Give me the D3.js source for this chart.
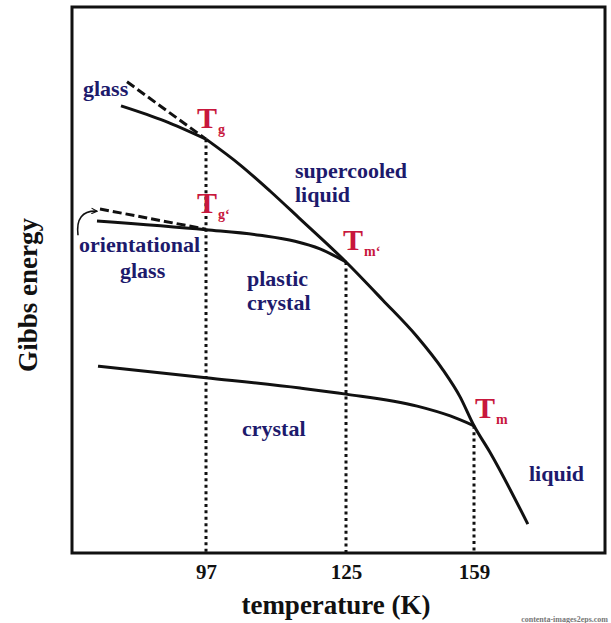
<!DOCTYPE html>
<html>
<head>
<meta charset="utf-8">
<script src="https://cdn.jsdelivr.net/npm/d3@7"></script>
<style>
  html, body { margin: 0; padding: 0; background: #fff; }
  svg text { font-family: "Liberation Serif", "Times New Roman", serif; font-weight: bold; }
</style>
</head>
<body>
<div id="chart"></div>
<script>
// temperature (K) vs Gibbs energy (arbitrary units, 0-100)
var tickTemps = [97, 125, 159];

var glassT = [80, 88.8, 97];
var glassG = [81.9, 79.1, 75.8];

var glassExtT = [81.2, 97];          // dashed extrapolation of liquid
var glassExtG = [86.3, 75.8];

var liquidT = [97, 103.8, 109.8, 115.8, 125, 134.8, 143.9, 150.8, 155.3, 159, 163.2, 173.3];
var liquidG = [75.8, 71.1, 66.3, 61.2, 53.3, 46.3, 39.6, 33.5, 28.6, 23.3, 18.5, 5.3];

var plasticT = [75.2, 97, 107.8, 114.8, 119.8, 125];
var plasticG = [60.8, 59.2, 58.2, 57.1, 55.7, 53.3];

var orientExtT = [75.8, 97];         // dashed extrapolation of plastic crystal
var orientExtG = [63.0, 59.3];

var crystalT = [75.4, 97, 115.8, 125, 143.9, 152.7, 159];
var crystalG = [34.2, 32.1, 30.2, 29.1, 26.9, 25.1, 23.3];

var transitionG = [75.8, 53.3, 23.3]; // G where the dotted lines start
var transitionNames = ["g", "m\u2018", "m"];

function zip(ts, gs) { return ts.map(function (t, i) { return { t: t, g: gs[i] }; }); }

var width = 611, height = 623;
var frame = { left: 72, top: 7, right: 605, bottom: 553 };
var red = "#c8173d", navy = "#1d1a6c";

var svg = d3.select("#chart").append("svg")
    .attr("width", width)
    .attr("height", height);

// schematic axis: the three marked temperatures are not evenly spaced
var x = d3.scaleLinear()
    .domain(tickTemps)
    .range([206, 346, 474]);

var y = d3.scaleLinear()
    .domain([0, 100])
    .range([frame.bottom, frame.top]);

var line = d3.line()
    .x(function (d) { return x(d.t); })
    .y(function (d) { return y(d.g); })
    .curve(d3.curveMonotoneX);

// dotted verticals at the transitions
svg.selectAll(".drop")
    .data(tickTemps)
    .enter().append("line")
    .attr("class", "drop")
    .attr("x1", function (d) { return x(d); })
    .attr("x2", function (d) { return x(d); })
    .attr("y1", function (d, i) { return y(transitionG[i]); })
    .attr("y2", y(0))
    .attr("stroke", "#111")
    .attr("stroke-width", 3)
    .attr("stroke-dasharray", "3,3.4");

// solid curves
[zip(glassT, glassG), zip(liquidT, liquidG), zip(plasticT, plasticG), zip(crystalT, crystalG)]
    .forEach(function (pts) {
        svg.append("path")
            .datum(pts)
            .attr("d", line)
            .attr("fill", "none")
            .attr("stroke", "#111")
            .attr("stroke-width", 3);
    });

// dashed extrapolations
[zip(glassExtT, glassExtG), zip(orientExtT, orientExtG)].forEach(function (pts) {
    svg.append("path")
        .datum(pts)
        .attr("d", line)
        .attr("fill", "none")
        .attr("stroke", "#111")
        .attr("stroke-width", 3)
        .attr("stroke-dasharray", "9,4");
});

// small curved arrow from "orientational" to the dashed line
svg.append("defs").append("marker")
    .attr("id", "head")
    .attr("viewBox", "0 0 10 10")
    .attr("refX", 9).attr("refY", 5)
    .attr("markerWidth", 7).attr("markerHeight", 7)
    .attr("markerUnits", "userSpaceOnUse")
    .attr("orient", "auto")
    .append("path")
    .attr("d", "M1,1 L9,5 L1,9")
    .attr("fill", "none")
    .attr("stroke", "#111")
    .attr("stroke-width", 1.6);

svg.append("path")
    .attr("d", "M" + x(71.4) + "," + y(58.2) +
               " Q" + x(70.8) + "," + y(62.8) + " " + x(75.2) + "," + y(62.6))
    .attr("fill", "none")
    .attr("stroke", "#111")
    .attr("stroke-width", 1.6)
    .attr("marker-end", "url(#head)");

// frame
svg.append("rect")
    .attr("x", frame.left)
    .attr("y", frame.top)
    .attr("width", frame.right - frame.left)
    .attr("height", frame.bottom - frame.top)
    .attr("fill", "none")
    .attr("stroke", "#111")
    .attr("stroke-width", 3);

// x ticks
var xAxis = svg.append("g")
    .attr("transform", "translate(0," + frame.bottom + ")")
    .call(d3.axisBottom(x).tickValues(tickTemps).tickSize(0).tickPadding(11).tickFormat(d3.format("d")));
xAxis.select(".domain").remove();
xAxis.selectAll("text")
    .attr("font-family", "Liberation Serif, Times New Roman, serif")
    .attr("font-weight", "bold")
    .attr("font-size", 21)
    .attr("fill", "#111");

// axis titles
svg.append("text")
    .attr("x", 336).attr("y", 614)
    .attr("text-anchor", "middle")
    .attr("font-size", 27)
    .attr("fill", "#111")
    .text("temperature (K)");

svg.append("text")
    .attr("transform", "translate(37,295) rotate(-90)")
    .attr("text-anchor", "middle")
    .attr("font-size", 27)
    .attr("fill", "#111")
    .text("Gibbs energy");

// T labels near the transition points
var tLabels = [
    { t: 97, g: transitionG[0], sub: "g", dx: -9, dy: -11 },
    { t: 97, g: plasticG[1], sub: "g\u2018", dx: -9, dy: -17 },
    { t: 125, g: transitionG[1], sub: transitionNames[1], dx: -3, dy: -12 },
    { t: 159, g: transitionG[2], sub: transitionNames[2], dx: 1, dy: -8 }
];
tLabels.forEach(function (d) {
    var txt = svg.append("text")
        .attr("x", x(d.t) + d.dx)
        .attr("y", y(d.g) + d.dy)
        .attr("fill", red);
    txt.append("tspan").attr("font-size", 30).text("T");
    txt.append("tspan").attr("font-size", 14).attr("dx", 1).attr("dy", 6).text(d.sub);
});

// region labels
var regionLabels = [
    { text: "glass", px: 83, py: 96 },
    { text: "supercooled", px: 295, py: 178 },
    { text: "liquid", px: 295, py: 202 },
    { text: "orientational", px: 79, py: 252 },
    { text: "glass", px: 120, py: 278 },
    { text: "plastic", px: 247, py: 286 },
    { text: "crystal", px: 247, py: 310 },
    { text: "crystal", px: 242, py: 436 },
    { text: "liquid", px: 529, py: 481 }
];
svg.selectAll(".region")
    .data(regionLabels)
    .enter().append("text")
    .attr("class", "region")
    .attr("x", function (d) { return d.px; })
    .attr("y", function (d) { return d.py; })
    .attr("font-size", 22)
    .attr("fill", navy)
    .text(function (d) { return d.text; });

// source watermark
svg.append("text")
    .attr("x", 608).attr("y", 622)
    .attr("text-anchor", "end")
    .attr("font-family", "DejaVu Sans, sans-serif")
    .attr("font-weight", "bold")
    .attr("font-size", 8)
    .attr("fill", "#777")
    .text("contenta-images2eps.com");
</script>
</body>
</html>
